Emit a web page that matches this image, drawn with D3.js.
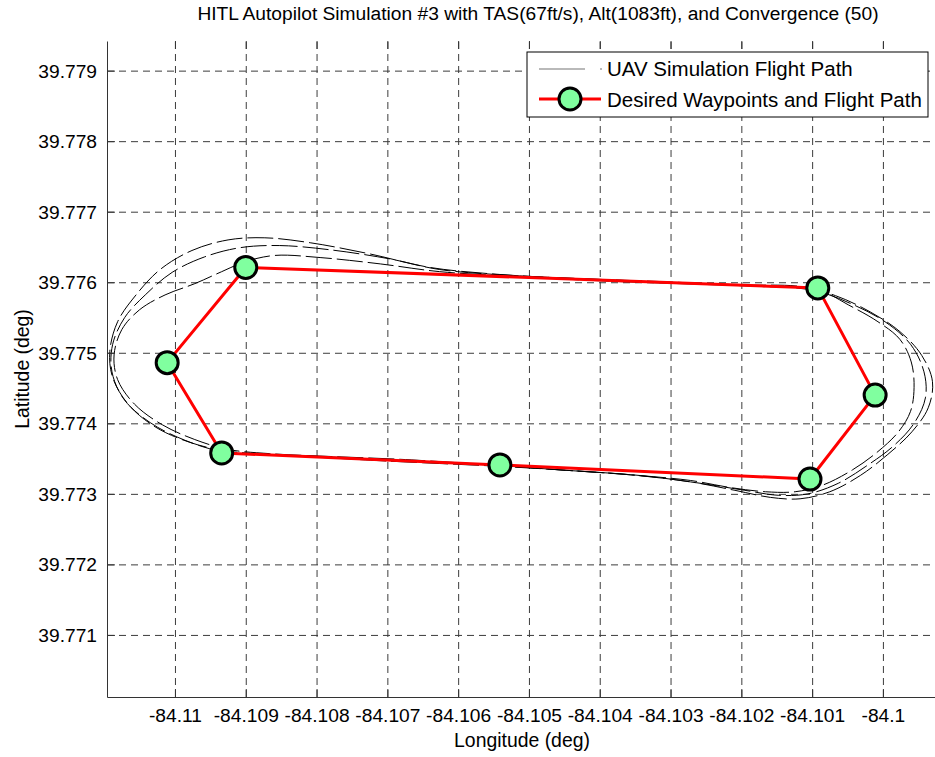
<!DOCTYPE html>
<html>
<head>
<meta charset="utf-8">
<script src="https://cdn.jsdelivr.net/npm/d3@7"></script>
<style>
  html, body { margin: 0; padding: 0; background: #fff; }
  svg { display: block; font-family: "Liberation Sans", Arial, Helvetica, sans-serif; }
</style>
</head>
<body>
<svg id="chart" width="935" height="757"></svg>
<script>
// Axis limits and ticks (degrees)
const xLimits = [-84.11096, -84.09877];
const yLimits = [39.77012, 39.77942];
const xTicks = [-84.11, -84.109, -84.108, -84.107, -84.106, -84.105, -84.104, -84.103, -84.102, -84.101, -84.1];
const xTickLabels = ["-84.11", "-84.109", "-84.108", "-84.107", "-84.106", "-84.105", "-84.104", "-84.103", "-84.102", "-84.101", "-84.1"];
const yTicks = [39.771, 39.772, 39.773, 39.774, 39.775, 39.776, 39.777, 39.778, 39.779];
const yTickLabels = ["39.771", "39.772", "39.773", "39.774", "39.775", "39.776", "39.777", "39.778", "39.779"];

// Desired waypoints (closed circuit)
const waypointLon = [-84.10900, -84.10092, -84.10011, -84.10103, -84.10541, -84.10934, -84.11011];
const waypointLat = [39.77621, 39.77592, 39.77440, 39.77321, 39.77341, 39.77358, 39.77486];

// Simulated UAV track, one array pair per lap
const lap1Lon = [-84.10781, -84.10866, -84.10929, -84.10979, -84.11028, -84.11066, -84.11088, -84.11092, -84.11081, -84.11055, -84.11021, -84.10976, -84.10925, -84.10873, -84.10809, -84.10724, -84.10640, -84.10541, -84.10428, -84.10315, -84.10202, -84.10117, -84.10067, -84.10018, -84.09976, -84.09945, -84.09930, -84.09936, -84.09959, -84.09993, -84.10032, -84.10075, -84.10117, -84.10159, -84.10209, -84.10272, -84.10357, -84.10456, -84.10541, -84.10626, -84.10710, -84.10781];
const lap1Lat = [39.77351, 39.77356, 39.77361, 39.77373, 39.77395, 39.77427, 39.77465, 39.77502, 39.77544, 39.77582, 39.77618, 39.77645, 39.77660, 39.77663, 39.77656, 39.77640, 39.77621, 39.77611, 39.77605, 39.77601, 39.77596, 39.77594, 39.77581, 39.77558, 39.77530, 39.77496, 39.77459, 39.77422, 39.77388, 39.77356, 39.77326, 39.77303, 39.77293, 39.77295, 39.77305, 39.77317, 39.77327, 39.77334, 39.77339, 39.77343, 39.77347, 39.77351];

const lap2Lon = [-84.10682, -84.10795, -84.10880, -84.10934, -84.10986, -84.11035, -84.11072, -84.11089, -84.11088, -84.11071, -84.11042, -84.11004, -84.10958, -84.10908, -84.10852, -84.10781, -84.10696, -84.10626, -84.10513, -84.10399, -84.10286, -84.10173, -84.10096, -84.10046, -84.09997, -84.09961, -84.09942, -84.09940, -84.09956, -84.09985, -84.10024, -84.10063, -84.10106, -84.10148, -84.10195, -84.10258, -84.10343, -84.10442, -84.10541, -84.10611, -84.10682];
const lap2Lat = [39.77347, 39.77353, 39.77356, 39.77360, 39.77376, 39.77401, 39.77434, 39.77473, 39.77512, 39.77550, 39.77582, 39.77614, 39.77636, 39.77649, 39.77652, 39.77646, 39.77633, 39.77618, 39.77609, 39.77604, 39.77599, 39.77595, 39.77588, 39.77570, 39.77544, 39.77512, 39.77473, 39.77436, 39.77400, 39.77368, 39.77339, 39.77315, 39.77300, 39.77298, 39.77305, 39.77315, 39.77326, 39.77333, 39.77340, 39.77344, 39.77347];

const lap3Lon = [-84.10583, -84.10682, -84.10781, -84.10866, -84.10925, -84.10972, -84.11018, -84.11057, -84.11081, -84.11086, -84.11075, -84.11050, -84.11014, -84.10972, -84.10934, -84.10901, -84.10859, -84.10795, -84.10710, -84.10626, -84.10513, -84.10399, -84.10286, -84.10173, -84.10091, -84.10049, -84.10007, -84.09976, -84.09960, -84.09956, -84.09961, -84.09978, -84.10007, -84.10043, -84.10086, -84.10124, -84.10166, -84.10216, -84.10272, -84.10357, -84.10456, -84.10541];
const lap3Lat = [39.77343, 39.77349, 39.77353, 39.77357, 39.77363, 39.77377, 39.77398, 39.77427, 39.77462, 39.77497, 39.77533, 39.77561, 39.77582, 39.77598, 39.77615, 39.77629, 39.77638, 39.77635, 39.77626, 39.77615, 39.77608, 39.77602, 39.77598, 39.77594, 39.77589, 39.77568, 39.77544, 39.77519, 39.77487, 39.77451, 39.77417, 39.77388, 39.77360, 39.77334, 39.77312, 39.77303, 39.77303, 39.77309, 39.77319, 39.77327, 39.77334, 39.77340];

const titleText = "HITL Autopilot Simulation #3 with TAS(67ft/s), Alt(1083ft), and Convergence (50)";
const xLabelText = "Longitude (deg)";
const yLabelText = "Latitude (deg)";
const legendLabels = ["UAV Simulation Flight Path", "Desired Waypoints and Flight Path"];

// ---- layout ----
const svg = d3.select("#chart");
const plot = { left: 107, right: 970, top: 41, bottom: 697 };
const tickFont = 19.2;
const labelFont = 19.4;
const fontStack = "'Liberation Sans', Arial, Helvetica, sans-serif";

const x = d3.scaleLinear().domain(xLimits).range([plot.left, plot.right]);
const y = d3.scaleLinear().domain(yLimits).range([plot.bottom, plot.top]);

svg.append("defs").append("clipPath").attr("id", "plot-clip")
  .append("rect")
  .attr("x", plot.left).attr("y", plot.top)
  .attr("width", plot.right - plot.left).attr("height", plot.bottom - plot.top);

// Grid (dashed)
const gridColor = "#3c3c3c";
const gridX = svg.append("g")
  .attr("transform", `translate(0,${plot.bottom})`)
  .call(d3.axisBottom(x).tickValues(xTicks).tickSize(-(plot.bottom - plot.top)).tickFormat(""));
gridX.select(".domain").remove();
gridX.selectAll("line").attr("stroke", gridColor).attr("stroke-dasharray", "7,5");

const gridY = svg.append("g")
  .attr("transform", `translate(${plot.left},0)`)
  .call(d3.axisLeft(y).tickValues(yTicks).tickSize(-(plot.right - plot.left)).tickFormat(""));
gridY.select(".domain").remove();
gridY.selectAll("line").attr("stroke", gridColor).attr("stroke-dasharray", "7,5");

// Plot content
const content = svg.append("g").attr("clip-path", "url(#plot-clip)");

const track = d3.line()
  .x(d => x(d[0]))
  .y(d => y(d[1]))
  .curve(d3.curveCatmullRom.alpha(0.5));

const laps = [
  { lon: lap1Lon, lat: lap1Lat, offset: 0 },
  { lon: lap2Lon, lat: lap2Lat, offset: 9 },
  { lon: lap3Lon, lat: lap3Lat, offset: 17 }
];
laps.forEach(l => {
  content.append("path")
    .attr("d", track(l.lon.map((v, i) => [v, l.lat[i]])))
    .attr("fill", "none")
    .attr("stroke", "#000")
    .attr("stroke-width", 1)
    .attr("stroke-dasharray", "26,5")
    .attr("stroke-dashoffset", l.offset);
});

const wp = waypointLon.map((v, i) => [v, waypointLat[i]]);
const route = d3.line().x(d => x(d[0])).y(d => y(d[1]));
content.append("path")
  .attr("d", route([...wp, wp[0]]))
  .attr("fill", "none")
  .attr("stroke", "#ff0000")
  .attr("stroke-width", 3)
  .attr("stroke-linejoin", "round");

content.selectAll("circle.wp").data(wp).join("circle")
  .attr("class", "wp")
  .attr("cx", d => x(d[0]))
  .attr("cy", d => y(d[1]))
  .attr("r", 11)
  .attr("fill", "#80ff9f")
  .attr("stroke", "#000")
  .attr("stroke-width", 3);

// Axes
const axisColor = "#333";
const xAxis = svg.append("g")
  .attr("transform", `translate(0,${plot.bottom})`)
  .call(d3.axisBottom(x).tickValues(xTicks).tickSizeInner(-8).tickSizeOuter(0)
    .tickFormat((d, i) => xTickLabels[i]));
xAxis.select(".domain").attr("stroke", axisColor);
xAxis.selectAll(".tick line").attr("stroke", axisColor);
xAxis.selectAll(".tick text")
  .attr("y", 25).attr("dy", null)
  .attr("fill", "#000")
  .style("font-size", tickFont + "px")
  .style("font-family", fontStack);

// ticks along the top edge
const xTop = svg.append("g")
  .attr("transform", `translate(0,${plot.top})`)
  .call(d3.axisTop(x).tickValues(xTicks).tickSizeInner(-8).tickSizeOuter(0).tickFormat(""));
xTop.select(".domain").remove();
xTop.selectAll(".tick line").attr("stroke", axisColor);

const yAxis = svg.append("g")
  .attr("transform", `translate(${plot.left},0)`)
  .call(d3.axisLeft(y).tickValues(yTicks).tickSizeInner(-8).tickSizeOuter(0)
    .tickFormat((d, i) => yTickLabels[i]));
yAxis.select(".domain").attr("stroke", axisColor);
yAxis.selectAll(".tick line").attr("stroke", axisColor);
yAxis.selectAll(".tick text")
  .attr("x", -10).attr("dy", "6.5")
  .attr("fill", "#000")
  .style("font-size", tickFont + "px")
  .style("font-family", fontStack);

// Title and axis labels
svg.append("text")
  .attr("x", 538).attr("y", 20)
  .attr("text-anchor", "middle")
  .style("font-size", tickFont + "px")
  .text(titleText);

svg.append("text")
  .attr("x", 522).attr("y", 747)
  .attr("text-anchor", "middle")
  .style("font-size", labelFont + "px")
  .text(xLabelText);

svg.append("text")
  .attr("transform", `translate(29,${(plot.top + plot.bottom) / 2}) rotate(-90)`)
  .attr("text-anchor", "middle")
  .style("font-size", labelFont + "px")
  .text(yLabelText);

// Legend
const legend = svg.append("g");
legend.append("rect")
  .attr("x", 527).attr("y", 52)
  .attr("width", 401).attr("height", 65)
  .attr("fill", "#fff")
  .attr("stroke", "#000")
  .attr("stroke-width", 1);

legend.append("line")
  .attr("x1", 539).attr("x2", 602)
  .attr("y1", 69).attr("y2", 69)
  .attr("stroke", "#000")
  .attr("stroke-opacity", 0.55)
  .attr("stroke-width", 1)
  .attr("stroke-dasharray", "46,15");

legend.append("line")
  .attr("x1", 539).attr("x2", 601)
  .attr("y1", 99).attr("y2", 99)
  .attr("stroke", "#ff0000")
  .attr("stroke-width", 3);
legend.append("circle")
  .attr("cx", 570).attr("cy", 99).attr("r", 11)
  .attr("fill", "#80ff9f")
  .attr("stroke", "#000")
  .attr("stroke-width", 3);

legend.selectAll("text.lg").data(legendLabels).join("text")
  .attr("class", "lg")
  .attr("x", 607)
  .attr("y", (d, i) => 76 + i * 31)
  .style("font-size", "20.5px")
  .text(d => d);
</script>
</body>
</html>
